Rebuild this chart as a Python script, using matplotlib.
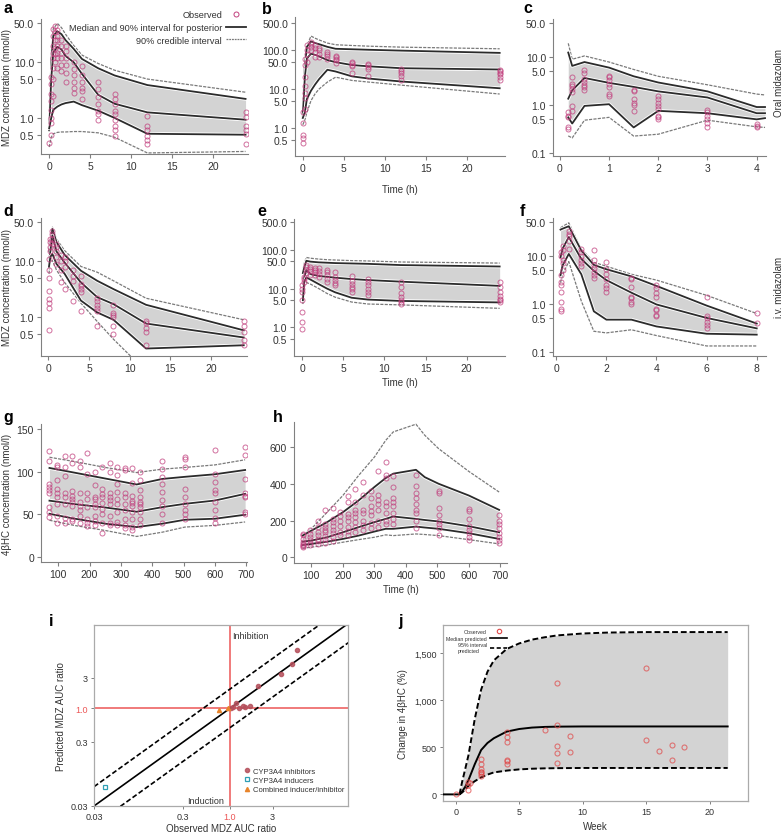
import matplotlib
matplotlib.use('Agg')
import matplotlib.pyplot as plt
import matplotlib.patheffects as pe
from matplotlib.lines import Line2D
from matplotlib.ticker import NullLocator

plt.rcParams['font.family'] = ['Liberation Sans', 'DejaVu Sans']

# ---- panel a: oral MDZ, study 1 ----
a_t = [0, 0.25, 0.5, 1, 1.5, 2, 3, 4, 6, 8, 12, 24]
a_hi95 = [1.0, 15, 40, 50, 42, 32, 20, 13.5, 9.5, 7.2, 5.0, 2.9]
a_hi = [0.7, 10, 30, 36, 32, 25, 17.4, 11.5, 7.8, 5.8, 3.9, 2.2]
a_med = [0.6, 5, 15, 19, 17, 13, 10, 6.2, 2.6, 1.8, 1.26, 0.93]
a_lo = [0.65, 1.0, 1.4, 1.6, 1.75, 1.85, 1.97, 1.7, 1.35, 1.0, 0.52, 0.5]
a_lo95 = [0.3, 0.45, 0.52, 0.55, 0.56, 0.56, 0.57, 0.57, 0.54, 0.45, 0.235, 0.25]
a_obs = {
    0: [0.35],
    0.25: [0.5, 0.8, 1.0, 1.4, 2.0, 2.7, 4.0, 5.5],
    0.5: [2.5, 5, 8, 12, 15, 20, 30, 40],
    0.75: [10, 14, 18, 25, 35, 45],
    1: [8, 12, 15, 20, 25, 30, 38],
    1.5: [7, 9, 12, 15, 20, 25],
    2: [4.5, 6.5, 9, 12, 16, 20],
    3: [2.8, 3.5, 4.5, 6, 7.5, 10],
    4: [2.2, 3, 3.5, 4.5, 6, 8.5],
    6: [0.9, 1.18, 1.35, 1.8, 2.35, 3.3, 4.4],
    8: [0.48, 0.6, 0.73, 0.9, 1.18, 1.35, 1.8, 2.2, 2.7],
    12: [0.34, 0.4, 0.48, 0.6, 0.73, 1.1],
    24: [0.34, 0.52, 0.6, 0.73, 1.03, 1.26],
}

# ---- panel b: oral MDZ, study 2 ----
b_t = [0, 0.25, 0.5, 1, 1.5, 2, 3, 4, 6, 8, 12, 24]
b_hi95 = [3, 60, 130, 227, 200, 180, 150, 136, 130, 125, 118, 107]
b_hi = [2.5, 40, 120, 165, 150, 140, 120, 107, 104, 101, 96, 84]
b_med = [2.0, 20, 60, 80, 75, 68, 55, 48.5, 41, 38, 34, 31.5]
b_lo = [1.8, 2.5, 5.5, 9, 13, 18, 31, 28, 21, 18.5, 15.5, 10.4]
b_lo95 = [1.2, 1.6, 2.5, 5, 7.5, 10, 15, 20, 16.5, 15, 12.5, 7.4]
b_obs = {
    0: [0.4, 0.55, 0.65, 1.3, 2.5],
    0.25: [3, 6, 8, 12, 20, 40, 60],
    0.5: [50, 80, 100, 130],
    1: [100, 120, 140, 160],
    1.5: [65, 90, 110, 130],
    2: [65, 80, 100, 115],
    3: [60, 70, 80, 90],
    4: [45, 55, 60, 65, 70],
    6: [25, 38, 42, 45, 50],
    8: [22, 32, 36, 40, 43],
    12: [17, 21, 25, 28, 32],
    24: [17, 20, 24, 26, 28, 30],
}

# ---- panel c: oral MDZ, study 3 ----
c_t = [0.17, 0.25, 0.5, 1, 1.5, 2, 3, 4, 4.17]
c_hi95 = [18.8, 8.8, 10.3, 7.7, 5.4, 3.9, 2.6, 1.67, 1.6]
c_hi = [12.1, 6.4, 7.7, 5.9, 3.9, 2.9, 1.9, 0.9, 0.9]
c_med = [1.34, 2.0, 3.6, 2.85, 2.35, 1.9, 1.42, 0.67, 0.67]
c_lo = [0.55, 0.41, 0.95, 1.03, 0.34, 0.75, 0.67, 0.5, 0.53]
c_lo95 = [0.227, 0.206, 0.48, 0.55, 0.225, 0.246, 0.48, 0.35, 0.34]
c_obs = {
    0.17: [0.32, 0.35, 0.55, 0.6, 0.7],
    0.25: [0.75, 0.95, 1.8, 2.1, 2.4, 2.7, 3.8],
    0.5: [2.0, 2.3, 2.6, 3.0, 3.5, 4.5, 5.3],
    1: [1.5, 1.7, 2.3, 2.7, 3.2, 3.8, 4.0],
    1.5: [0.75, 1.0, 1.1, 1.3, 1.9, 2.0],
    2: [0.5, 0.55, 0.6, 0.8, 0.95, 1.1, 1.3, 1.5],
    3: [0.35, 0.42, 0.5, 0.6, 0.7, 0.78],
    4: [0.35, 0.37, 0.4],
}

# ---- panel d: i.v. MDZ, study 1 ----
d_t = [0.08, 0.25, 0.5, 1, 2, 4, 6, 8, 12, 24]
d_hi95 = [20, 25, 40.5, 25, 15.5, 8.1, 6.4, 4.5, 2.2, 0.91]
d_hi = [15, 20, 37.7, 22, 13, 6.8, 4.5, 3.2, 1.68, 0.59]
d_med = [10, 15, 28.8, 15, 9.5, 4.2, 2.3, 1.73, 0.78, 0.44]
d_lo = [8, 12, 13.5, 9, 6, 2.0, 1.23, 0.91, 0.28, 0.32]
d_lo95 = [6, 10, 10.3, 7, 4.2, 1.8, 0.85, 0.41, 0.11, 0.05]
d_obs = {
    0.08: [0.6, 1.5, 1.8, 2.1, 3, 5, 7, 11],
    0.25: [15, 18, 22, 25],
    0.5: [20, 25, 30, 35],
    1: [9, 12, 15, 18, 20],
    1.5: [4.2, 7, 10, 13],
    2: [3.2, 8, 10, 12],
    3: [2, 4.5, 5.5, 7],
    4: [1.3, 2.8, 3.2, 3.6, 4, 5.5],
    6: [0.7, 1.3, 1.5, 1.7, 2, 2.2],
    8: [0.5, 0.7, 1.0, 1.1, 1.2, 1.7],
    12: [0.33, 0.55, 0.65, 0.8, 0.85],
    24: [0.33, 0.4, 0.55, 0.7, 0.85],
}

# ---- panel e: i.v. MDZ, study 2 ----
e_t = [0.08, 0.25, 0.5, 1, 2, 3, 4, 6, 8, 12, 24]
e_hi95 = [30, 45, 62.8, 60, 57, 55, 54, 52, 51, 48, 45]
e_hi = [25, 35, 51.6, 49, 47, 46, 45, 44, 43, 40, 36.8]
e_med = [8, 20, 29.6, 23.4, 21, 20, 19, 17.5, 16.5, 15, 11.7]
e_lo = [5, 15, 19.2, 17, 13, 10, 8, 5.8, 5.2, 4.8, 4.4]
e_lo95 = [4, 12, 14.3, 13, 10, 7.5, 6, 4.5, 4.0, 3.8, 3.1]
e_obs = {
    0: [0.9, 1.4, 2.5, 5, 8, 10, 12],
    0.25: [15, 18, 20],
    0.5: [25, 30, 35, 40],
    1: [22, 28, 32, 36],
    1.5: [22, 26, 30, 34],
    2: [20, 24, 28, 34],
    3: [15, 18, 22, 26, 30],
    4: [12, 14, 17, 20, 26],
    6: [8, 9.5, 11, 13, 16, 21],
    8: [7, 8, 10, 12, 15, 18],
    12: [4, 4.5, 5, 6, 7.5, 11, 15],
    24: [4.5, 5, 5.5, 6.5, 8, 11, 15],
}

# ---- panel f: i.v. MDZ, study 3 ----
f_t = [0.17, 0.25, 0.5, 1, 1.5, 2, 3, 4, 6, 8]
f_hi95 = [37.6, 40, 47.7, 13.8, 7.25, 6.0, 4.1, 3.1, 1.5, 0.63]
f_hi = [34.5, 36, 40.5, 12.7, 6.4, 5.2, 3.7, 2.35, 0.92, 0.39]
f_med = [9.2, 13.8, 24.2, 8.5, 4.8, 3.1, 1.7, 0.97, 0.51, 0.31]
f_lo = [3.9, 6.2, 10.8, 4.1, 0.7, 0.47, 0.47, 0.34, 0.24, 0.23]
f_lo95 = [2.75, 4, 7.5, 1.14, 0.27, 0.25, 0.29, 0.22, 0.134, 0.134]
f_obs = {
    0.17: [0.7, 0.8, 1.1, 1.8, 2.4, 2.8, 4, 10, 12],
    0.25: [5, 7, 8, 13, 16],
    0.5: [14, 20, 25, 28, 32],
    1: [6, 7, 8, 10, 12, 14],
    1.5: [3.5, 4, 4.5, 5.5, 6.5, 8, 13],
    2: [1.8, 2.1, 2.4, 3.2, 4.2, 5.2, 7.5],
    3: [1.0, 1.1, 1.3, 1.4, 2.2, 3.2, 3.5],
    4: [0.55, 0.6, 0.75, 0.8, 1.4, 1.7, 2.1, 2.4],
    6: [0.32, 0.37, 0.42, 0.5, 0.55, 1.4],
    8: [0.4, 0.65],
}

# ---- panel g: 4bHC, study 1 ----
g_t = [72, 150, 250, 350, 432, 504, 600, 696]
g_hi95 = [117, 112, 105, 99, 103, 105, 108, 114]
g_hi = [104.4, 99, 92, 85, 91.5, 94, 97, 102]
g_med = [66, 62, 58, 53, 58.4, 62.3, 66.2, 74]
g_lo = [50.6, 45, 39, 35, 39, 43.6, 44.8, 49.5]
g_lo95 = [43, 37, 31, 24, 29, 35, 37, 41]
g_obs = {
    72: [47, 53, 58, 75, 78, 82, 85, 113, 124],
    96: [40, 48, 62, 70, 75, 80, 90, 105, 108],
    120: [40, 46, 62, 70, 75, 95, 105, 118],
    144: [42, 44, 60, 65, 68, 72, 77, 110, 118],
    168: [40, 48, 55, 60, 65, 75, 105, 112],
    192: [36, 40, 45, 58, 68, 75, 97, 122],
    216: [38, 42, 48, 58, 62, 68, 70, 84, 100],
    240: [28, 40, 50, 56, 63, 70, 74, 80, 105],
    264: [38, 40, 48, 62, 67, 70, 75, 100, 110],
    288: [38, 41, 53, 62, 68, 76, 85, 96, 106],
    312: [34, 38, 45, 55, 62, 70, 75, 102, 104],
    336: [32, 35, 44, 53, 60, 63, 66, 72, 87, 104],
    360: [37, 45, 53, 58, 62, 65, 70, 78, 90, 100],
    432: [40, 50, 60, 67, 76, 86, 94, 103, 112],
    504: [45, 50, 55, 62, 70, 80, 105, 115, 117],
    600: [40, 46, 55, 65, 75, 78, 88, 97, 126],
    696: [50, 53, 70, 72, 75, 91, 120, 129],
}

# ---- panel h: 4bHC, study 2 ----
h_t = [72, 100, 150, 200, 250, 300, 336, 360, 432, 460, 504, 600, 696]
h_hi95 = [120, 155, 245, 336, 445, 545, 636, 682, 724, 664, 591, 467, 355]
h_hi = [118, 145, 191, 245, 309, 382, 431, 455, 476, 436, 400, 336, 258]
h_med = [85, 91, 109, 136, 164, 191, 209, 222, 209, 203, 195, 169, 136]
h_lo = [67, 73, 85, 100, 118, 140, 155, 155, 167, 162, 155, 131, 100]
h_lo95 = [49, 55, 67, 82, 96, 109, 122, 118, 127, 124, 118, 96, 73]
h_obs = {
    72: [55, 60, 65, 75, 85, 100, 120, 125],
    96: [65, 80, 95, 110, 125, 150],
    120: [75, 90, 100, 120, 140, 165, 195],
    144: [80, 100, 115, 135, 150, 165, 180, 260],
    168: [90, 110, 130, 150, 170, 190, 210, 270],
    192: [120, 140, 170, 200, 225, 245],
    216: [120, 145, 165, 195, 220, 235, 300, 335],
    240: [140, 165, 190, 220, 240, 260, 300, 370],
    264: [150, 175, 200, 240, 260, 340, 410],
    288: [160, 185, 230, 250, 280, 320, 360],
    312: [165, 200, 260, 290, 310, 340, 470],
    336: [180, 200, 240, 280, 300, 430, 450, 520],
    360: [180, 210, 240, 280, 300, 320, 380, 440],
    432: [160, 200, 240, 260, 290, 320, 350, 390, 450],
    504: [120, 160, 180, 200, 230, 270, 350, 360],
    600: [95, 110, 130, 150, 170, 210, 250, 265],
    696: [80, 95, 110, 130, 160, 180, 200, 230],
}

# ---- panel i: observed vs predicted AUC ratio ----
inhib_obs = [1.03, 1.07, 1.17, 1.25, 1.39, 1.49, 1.68, 2.05, 3.76, 4.95, 5.64]
inhib_pred = [1.0, 1.06, 1.23, 1.03, 1.09, 1.06, 1.09, 2.25, 3.5, 4.96, 8.2]
induc_obs = [0.04]
induc_pred = [0.06]
comb_obs = [0.76, 0.96]
comb_pred = [0.94, 1.03]

# ---- panel j: change in 4bHC over weeks ----
j_med_week = [-1, 0, 0.3, 0.5, 0.75, 1, 1.5, 2, 2.5, 3, 4, 5, 6, 7, 8, 10, 12, 15, 18, 21.4]
j_median = [0, 0, 0, 30, 80, 150, 320, 470, 545, 595, 665, 693, 708, 715, 718, 720, 720, 720, 720, 720]
j_band_week = [0.3, 0.5, 0.75, 1, 1.5, 2, 2.5, 3, 4, 5, 6, 7, 8, 10, 12, 15, 18, 21.4]
j_upper = [0, 130, 270, 413, 800, 1110, 1300, 1420, 1540, 1600, 1640, 1665, 1685, 1705, 1715, 1720, 1720, 1720]
j_lower = [0, 20, 50, 90, 140, 180, 210, 233, 252, 265, 272, 276, 278, 280, 280, 280, 280, 280]
j_obs_week = [0, 1, 1, 1, 1.1, 2, 2, 2, 2, 2, 2, 2, 4, 4, 4, 4, 4, 4, 7, 8, 8, 8, 8, 8,
              9, 9, 15, 15, 16, 17, 17, 18]
j_obs_change = [0, 50, 100, 135, 120, 375, 322, 269, 240, 233, 216, 191, 658, 605, 552, 368,
                357, 322, 683, 1182, 736, 509, 438, 329, 622, 452, 1338, 580, 456, 527, 367, 505]

FILL = '#d3d3d3'
LINE = '#2b2b2b'
DASH = '#7a7a7a'
PINK = '#c2407e'
AXC = '#808080'
TXT = '#333333'
halo = [pe.withStroke(linewidth=2.6, foreground='white')]

W, H = 784, 837
fig = plt.figure(figsize=(W / 100, H / 100), dpi=100)


def box(l, t, r, b):
    return fig.add_axes([l / W, 1 - b / H, (r - l) / W, (b - t) / H])


def r_style(ax):
    for s in ('top', 'right'):
        ax.spines[s].set_visible(False)
    for s in ('left', 'bottom'):
        ax.spines[s].set_color(AXC)
        ax.spines[s].set_linewidth(0.8)
    ax.tick_params(direction='out', length=3, width=0.8, color=AXC,
                   labelcolor=TXT, labelsize=7.5, pad=2)


def pk_panel(ax, t, hi95, hi, med, lo, lo95, obs):
    ax.fill_between(t, lo, hi, color=FILL, lw=0, zorder=1)
    for y in (hi95, lo95):
        ax.plot(t, y, color=DASH, lw=0.9, ls=(0, (2.5, 1)), path_effects=halo, zorder=2)
    for y in (hi, med, lo):
        ax.plot(t, y, color=LINE, lw=1.3, path_effects=halo, zorder=3)
    for tt, vals in obs.items():
        ax.plot([tt] * len(vals), vals, 'o', ms=3.6, mfc='none', mec=PINK,
                mew=0.7, alpha=0.75, zorder=4)
    r_style(ax)


def log_ticks(ax, vals):
    ax.set_yscale('log')
    ax.set_yticks(vals)
    ax.set_yticklabels(['%.1f' % v for v in vals])
    ax.yaxis.set_minor_locator(NullLocator())


ticks_a = [0.5, 1.0, 5.0, 10.0, 50.0]
ticks_b = [0.5, 1.0, 5.0, 10.0, 50.0, 100.0, 500.0]
ticks_c = [0.1, 0.5, 1.0, 5.0, 10.0, 50.0]

panels = [
    ('a', (41, 20, 248, 155), a_t, [a_hi95, a_hi, a_med, a_lo, a_lo95], a_obs, (-1, 24.3), (0.225, 60), ticks_a, [0, 5, 10, 15, 20]),
    ('b', (295, 18, 505, 157), b_t, [b_hi95, b_hi, b_med, b_lo, b_lo95], b_obs, (-0.95, 24.65), (0.19, 700), ticks_b, [0, 5, 10, 15, 20]),
    ('c', (553, 20, 766, 157), c_t, [c_hi95, c_hi, c_med, c_lo, c_lo95], c_obs, (-0.14, 4.19), (0.087, 60), ticks_c, [0, 1, 2, 3, 4]),
    ('d', (41, 219, 247, 357), d_t, [d_hi95, d_hi, d_med, d_lo, d_lo95], d_obs, (-0.9, 24.4), (0.206, 59), ticks_a, [0, 5, 10, 15, 20]),
    ('e', (294, 220, 505, 357), e_t, [e_hi95, e_hi, e_med, e_lo, e_lo95], e_obs, (-1.0, 24.65), (0.185, 610), ticks_b, [0, 5, 10, 15, 20]),
    ('f', (553, 219, 766, 357), f_t, [f_hi95, f_hi, f_med, f_lo, f_lo95], f_obs, (-0.13, 8.37), (0.083, 60), ticks_c, [0, 2, 4, 6, 8]),
]
axes = {}
for name, rect, t, curves, obs, xl, yl, yt, xt in panels:
    ax = box(*rect)
    pk_panel(ax, t, *curves, obs)
    log_ticks(ax, yt)
    ax.set_xticks(xt)
    ax.set_xlim(*xl)
    ax.set_ylim(*yl)
    axes[name] = ax

ax = box(41, 425, 247, 563)
pk_panel(ax, g_t, g_hi95, g_hi, g_med, g_lo, g_lo95, g_obs)
ax.set_xlim(45, 702)
ax.set_ylim(-6, 156)
ax.set_xticks([100, 200, 300, 400, 500, 600, 700])
ax.set_yticks([0, 50, 100, 150])
axes['g'] = ax

ax = box(294, 423, 507, 564)
pk_panel(ax, h_t, h_hi95, h_hi, h_med, h_lo, h_lo95, h_obs)
ax.set_xlim(45, 721)
ax.set_ylim(-31, 736)
ax.set_xticks([100, 200, 300, 400, 500, 600, 700])
ax.set_yticks([0, 200, 400, 600])
axes['h'] = ax

lab = dict(fontsize=7, color=TXT)
axes['a'].set_ylabel('MDZ concentration (nmol/l)', **lab)
axes['a'].yaxis.set_label_coords(-0.14, 0.5)
axes['d'].set_ylabel('MDZ concentration (nmol/l)', **lab)
axes['d'].yaxis.set_label_coords(-0.14, 0.5)
axes['g'].set_ylabel('4βHC concentration (nmol/l)', **lab)
axes['g'].yaxis.set_label_coords(-0.14, 0.5)
for k, yc in (('b', -0.2), ('e', -0.15), ('h', -0.15)):
    axes[k].set_xlabel('Time (h)', **lab)
    axes[k].xaxis.set_label_coords(0.5, yc)

# legend for panel a
leg_handles = [
    Line2D([], [], ls='none', marker='o', ms=3.6, mfc='none', mec=PINK, mew=0.7),
    Line2D([], [], color=LINE, lw=1.3),
    Line2D([], [], color=DASH, lw=0.9, ls=(0, (1.5, 0.7))),
]
axes['a'].legend(leg_handles, ['Observed', 'Median and 90% interval for posterior',
                               '90% credible interval'],
                 loc='upper right', bbox_to_anchor=(0.99, 1.065), markerfirst=False,
                 frameon=False, fontsize=6.6, handlelength=2.2, handletextpad=0.4,
                 labelspacing=0.4, borderpad=0, borderaxespad=0, labelcolor=TXT)

fig.text(783.5 / W, 1 - 83 / H, 'Oral midazolam', rotation=90, ha='right', va='center', **lab)
fig.text(783.5 / W, 1 - 287 / H, 'i.v. midazolam', rotation=90, ha='right', va='center', **lab)

# ---- panel i ----
RED = '#ec5656'
ax = box(94, 626, 348, 807)
ax.set_xscale('log')
ax.set_yscale('log')
ax.set_xlim(0.03, 21)
ax.set_ylim(0.03, 20)
diag = [0.01, 30]
ax.plot(diag, diag, color='black', lw=1.2, zorder=2)
ax.plot(diag, [v * 2 for v in diag], color='black', lw=1.2, ls=(0, (3, 1.5)), zorder=2)
ax.plot(diag, [v / 2 for v in diag], color='black', lw=1.2, ls=(0, (3, 1.5)), zorder=2)
ax.axvline(1.0, color=RED, lw=1.1, zorder=1)
ax.axhline(1.0, color=RED, lw=1.1, zorder=1)
ax.plot(inhib_obs, inhib_pred, 'o', ms=3, color='#b5505c', mec='#b5505c', alpha=0.85, zorder=4,
        label='CYP3A4 inhibitors')
ax.plot(induc_obs, induc_pred, 's', ms=3, mfc='none', mec='#2f9fb5', mew=0.9, zorder=4,
        label='CYP3A4 inducers')
ax.plot(comb_obs, comb_pred, '^', ms=3, color='#e8842a', zorder=4,
        label='Combined inducer/inhibitor')
ratio_ticks = [0.03, 0.3, 1.0, 3]
ax.set_xticks(ratio_ticks)
ax.set_yticks(ratio_ticks)
ax.set_xticklabels(['0.03', '0.3', '1.0', '3'])
ax.set_yticklabels(['0.03', '0.3', '1.0', '3'])
ax.xaxis.set_minor_locator(NullLocator())
ax.yaxis.set_minor_locator(NullLocator())
ax.tick_params(direction='out', length=2.5, width=0.7, color=AXC, labelcolor=TXT, labelsize=6.5, pad=2)
ax.get_xticklabels()[2].set_color(RED)
ax.get_yticklabels()[2].set_color(RED)
for s in ax.spines.values():
    s.set_color('#aaaaaa')
    s.set_linewidth(0.9)
ax.text(1.07, 13.5, 'Inhibition', fontsize=6.5, color=TXT, va='center')
ax.text(0.33, 0.036, 'Induction', fontsize=6.5, color=TXT, va='center')
ax.set_xlabel('Observed MDZ AUC ratio', **lab)
ax.set_ylabel('Predicted MDZ AUC ratio', **lab)
ax.xaxis.set_label_coords(0.5, -0.095)
ax.yaxis.set_label_coords(-0.11, 0.5)
ax.legend(loc='lower right', bbox_to_anchor=(0.985, 0.07), frameon=False, fontsize=5.5,
          handlelength=0.8, handletextpad=0.4, labelspacing=0.25, borderpad=0,
          borderaxespad=0, labelcolor=TXT)
axes['i'] = ax

# ---- panel j ----
ax = box(443, 626, 748, 802)
ax.fill_between(j_band_week, j_lower, j_upper, color=FILL, lw=0, zorder=1)
ax.plot(j_band_week, j_upper, color='black', lw=1.4, ls=(0, (3, 1.5)), zorder=2)
ax.plot(j_band_week, j_lower, color='black', lw=1.4, ls=(0, (3, 1.5)), zorder=2)
ax.plot(j_med_week, j_median, color='black', lw=1.4, zorder=3)
ax.plot(j_obs_week, j_obs_change, 'o', ms=3.6, mfc='none', mec='#e04848', mew=0.8,
        alpha=0.7, zorder=4)
ax.set_xlim(-1, 23)
ax.set_ylim(-70, 1795)
ax.set_xticks([0, 5, 10, 15, 20])
ax.set_yticks([0, 500, 1000, 1500])
ax.set_yticklabels(['0', '500', '1,000', '1,500'])
ax.tick_params(direction='out', length=2.5, width=0.7, color=AXC, labelcolor=TXT, labelsize=6.5, pad=2)
for s in ax.spines.values():
    s.set_color('#aaaaaa')
    s.set_linewidth(0.9)
ax.set_xlabel('Week', **lab)
ax.set_ylabel('Change in 4βHC (%)', **lab)
ax.xaxis.set_label_coords(0.5, -0.115)
ax.yaxis.set_label_coords(-0.115, 0.5)
j_handles = [
    Line2D([], [], ls='none', marker='o', ms=3.2, mfc='none', mec='#e04848', mew=0.8),
    Line2D([], [], color='black', lw=1.2),
    Line2D([], [], color='black', lw=1.2, ls=(0, (2.5, 1.5))),
]
ax.legend(j_handles, ['Observed', 'Median predicted', '95% interval\npredicted'],
          loc='upper left', bbox_to_anchor=(0.0, 0.995), markerfirst=False, frameon=False,
          fontsize=3.8, handlelength=3.2, handletextpad=0.6, labelspacing=0.3,
          borderpad=0.1, labelcolor=TXT)
axes['j'] = ax

# panel letters
letters = [('a', 3, 13), ('b', 262, 14), ('c', 523, 13), ('d', 3, 216), ('e', 257, 216),
           ('f', 520, 216), ('g', 3, 422), ('h', 273, 422), ('i', 49, 626), ('j', 398, 626)]
for s, x, y in letters:
    fig.text(x / W, 1 - y / H, s, fontsize=11.5, fontweight='bold', color='black',
             ha='left', va='baseline')

fig.savefig('out.png', dpi=100, facecolor='white')
